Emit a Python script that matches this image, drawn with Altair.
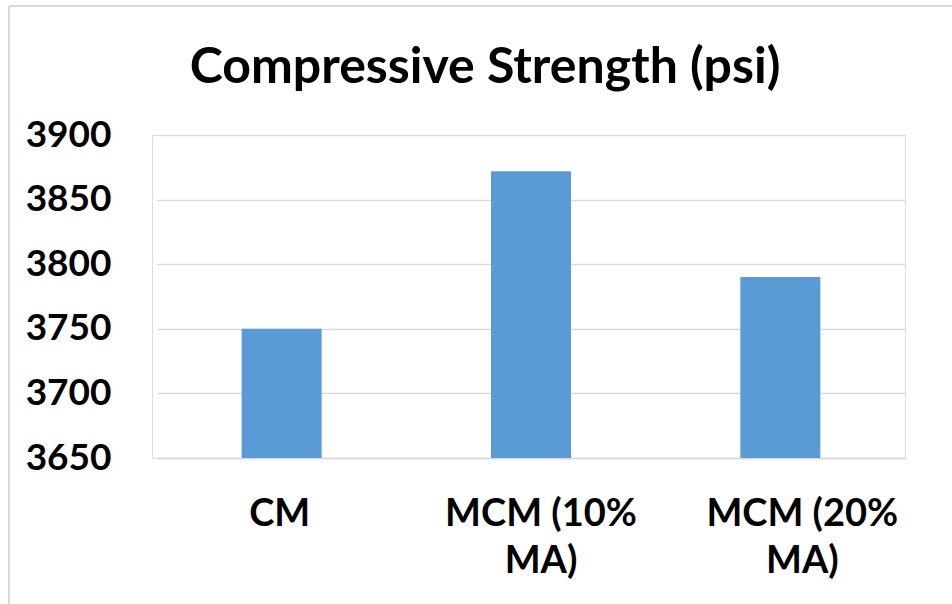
import altair as alt
import pandas as pd

categories = ["CM", "MCM (10% MA)", "MCM (20% MA)"]
strength = [3750, 3872, 3790]
y_ticks = [3650, 3700, 3750, 3800, 3850, 3900]
title_text = "Compressive Strength (psi)"

df = pd.DataFrame({"cat": categories, "val": strength})

FONT = "Lato"
GRID = "#D9D9D9"

bars = alt.Chart(df).mark_bar(color="#5B9BD5", width=80).encode(
    x=alt.X("cat:N", sort=categories, title=None,
            scale=alt.Scale(paddingInner=0, paddingOuter=0, range=[5, 753]),
            axis=alt.Axis(labelAngle=0, labelFont=FONT, labelFontSize=38,
                          labelFontWeight="bold", labelColor="#000000",
                          labelPadding=37, labelLineHeight=47, ticks=False,
                          domainColor=GRID, domainWidth=1.5, labelLimit=400,
                          labelOffset={"expr": "datum.value == 'CM' ? -2 : datum.value == 'MCM (10% MA)' ? 10 : 22"},
                          labelExpr="length(datum.label) > 5 ? [slice(datum.label, 0, lastindexof(datum.label, ' ')), slice(datum.label, lastindexof(datum.label, ' ') + 1)] : datum.label")),
    y=alt.Y("val:Q", title=None,
            scale=alt.Scale(domain=[3650, 3900], nice=False, zero=False, clamp=True),
            axis=alt.Axis(values=y_ticks, labelFont=FONT, labelFontSize=37,
                          labelFontWeight="bold", labelColor="#000000",
                          labelPadding=41, ticks=False, domain=False,
                          gridColor=GRID, gridWidth=1.5, format="d")),
)

frame_v = alt.Chart(df).mark_rule(color=GRID, strokeWidth=1.5).encode(
    x=alt.value(-143), y=alt.value(-129), y2=alt.value(500))
frame_h = alt.Chart(df).mark_rule(color=GRID, strokeWidth=1.5).encode(
    x=alt.value(-143), x2=alt.value(820), y=alt.value(-129))

title_mark = alt.Chart(df.head(1)).mark_text(
    font=FONT, fontSize=50, fontWeight="bold", color="#000000",
    align="center", baseline="alphabetic").encode(
    text=alt.value(title_text), x=alt.value(333), y=alt.value(-52))

chart = alt.layer(frame_v, frame_h, bars, title_mark).properties(
    width=753, height=323,
    autosize=alt.AutoSizeParams(type="none"),
    padding={"left": 152, "top": 135, "right": 47, "bottom": 146},
).configure_view(stroke=None).configure(background="white")

chart.save("out.html", embed_options={"renderer": "svg", "actions": False})
